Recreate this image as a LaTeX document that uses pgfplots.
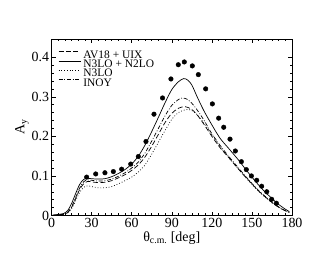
\documentclass[border=0pt]{standalone}
\usepackage{pgfplots}
\pgfplotsset{compat=1.18}
\usepackage{fontspec}
\setmainfont{Liberation Serif}
\begin{document}
\begin{tikzpicture}
\useasboundingbox (-51.5bp,-39.5bp) rectangle (278.5bp,215.5bp);
\begin{axis}[
  at={(0,0)}, anchor=south west,
  scale only axis, width=240.5bp, height=176.5bp,
  xmin=0, xmax=180, ymin=0, ymax=0.446,
  xtick={0,30,...,180}, ytick={0,0.1,0.2,0.3,0.4},
  yticklabels={0,0.1,0.2,0.3,0.4},
  minor x tick num=5, minor y tick num=4,
  tick align=inside, ticks=both,
  xtick pos=both, ytick pos=both,
  major tick length=4bp, minor tick length=2.2bp,
  /pgf/number format/assume math mode=true,
  tick label style={font=\fontsize{14}{16}\selectfont},
  xticklabel style={yshift=1bp},
  yticklabel style={xshift=1bp},
  label style={font=\fontsize{14}{16}\selectfont},
  xlabel={θ\textsubscript{c.m.} [deg]},
  ylabel={A\textsubscript{y}},
  xlabel style={yshift=3bp},
  ylabel style={yshift=-4bp},
  axis line style={line width=0.6pt},
  every tick/.style={line width=0.5pt},
  legend style={draw=none, fill=none, at={(0.027,0.935)}, anchor=north west,
    font=\fontsize{11.5}{11.5}\selectfont, inner sep=0pt, row sep=0bp,
    nodes={inner ysep=0pt, inner xsep=2.5bp, text height=7.6bp, text depth=1.7bp}},
  legend cell align=left,
  legend image code/.code={\draw[#1] (0bp,3.6bp) -- (22bp,3.6bp);},
]
\addplot[black, line width=0.7pt, dash pattern=on 5pt off 2.5pt, smooth] coordinates {
(0,0) (3,0.001) (6,0.002) (9,0.003) (12,0.007) (15,0.02) (18,0.042) (21,0.065) (24,0.08) (27,0.086) (30,0.085) (35,0.083) (40,0.084) (45,0.088) (50,0.095) (55,0.103) (60,0.114) (65,0.128) (70,0.148) (75,0.175) (80,0.205) (85,0.235) (90,0.258) (95,0.271) (100,0.275) (105,0.268) (110,0.25) (115,0.226) (119,0.205) (126,0.172) (133,0.145) (140,0.117) (145,0.098) (150,0.08) (155,0.062) (160,0.047) (165,0.033) (170,0.021) (175,0.012) (178,0.008)};
\addlegendentry{AV18 + UIX}
\addplot[black, line width=0.7pt, smooth] coordinates {
(0,0) (3,0.002) (6,0.003) (9,0.005) (12,0.012) (15,0.03) (18,0.055) (21,0.078) (24,0.091) (27,0.094) (30,0.093) (35,0.092) (40,0.093) (45,0.098) (50,0.106) (55,0.116) (60,0.13) (65,0.15) (70,0.178) (75,0.212) (80,0.248) (85,0.285) (90,0.318) (95,0.338) (99,0.346) (102,0.342) (105,0.33) (109,0.30) (114,0.265) (119,0.235) (126,0.196) (133,0.168) (140,0.14) (145,0.118) (150,0.097) (155,0.077) (160,0.059) (165,0.043) (170,0.028) (175,0.016) (178,0.010)};
\addlegendentry{N3LO + N2LO}
\addplot[black, line width=0.7pt, dash pattern=on 0.8pt off 2pt, smooth] coordinates {
(0,0) (3,0.001) (6,0.002) (9,0.003) (12,0.006) (15,0.017) (18,0.037) (21,0.058) (24,0.071) (27,0.075) (30,0.073) (35,0.07) (40,0.07) (45,0.073) (50,0.08) (55,0.088) (60,0.097) (65,0.11) (70,0.128) (75,0.155) (80,0.185) (85,0.215) (90,0.243) (95,0.26) (100,0.267) (104,0.267) (108,0.258) (112,0.243) (116,0.224) (120,0.204) (126,0.175) (133,0.145) (140,0.117) (145,0.097) (150,0.079) (155,0.061) (160,0.046) (165,0.032) (170,0.021) (175,0.012) (178,0.008)};
\addlegendentry{N3LO}
\addplot[black, line width=0.7pt, dash pattern=on 4pt off 1.8pt on 0.8pt off 1.8pt, smooth] coordinates {
(0,0) (3,0.001) (6,0.002) (9,0.003) (12,0.008) (15,0.022) (18,0.045) (21,0.069) (24,0.085) (27,0.09) (30,0.089) (35,0.087) (40,0.088) (45,0.092) (50,0.099) (55,0.108) (60,0.12) (65,0.135) (70,0.158) (75,0.188) (80,0.22) (85,0.252) (90,0.278) (95,0.293) (98,0.297) (102,0.293) (106,0.28) (110,0.262) (115,0.236) (119,0.212) (126,0.178) (133,0.148) (140,0.12) (145,0.1) (150,0.081) (155,0.063) (160,0.048) (165,0.034) (170,0.022) (175,0.012) (178,0.008)};
\addlegendentry{INOY}
\addplot[only marks, mark=*, mark size=2.3bp, black, forget plot] coordinates {
(26.3,0.097) (33.1,0.105) (40.0,0.108) (46.3,0.111) (52.5,0.117) (59.3,0.130) (65.0,0.149) (70.7,0.187) (76.7,0.256) (83.1,0.297) (89.4,0.345) (94.9,0.381) (99.4,0.388) (105.4,0.378) (109.9,0.356) (115.4,0.320) (120.4,0.282) (125.1,0.246) (128.9,0.223) (133.6,0.193) (137.6,0.163) (142.1,0.136) (145.8,0.116) (149.6,0.100) (153.6,0.089) (157.3,0.074) (161.1,0.060) (164.8,0.041) (168.3,0.031)};
\end{axis}
\end{tikzpicture}
\end{document}
